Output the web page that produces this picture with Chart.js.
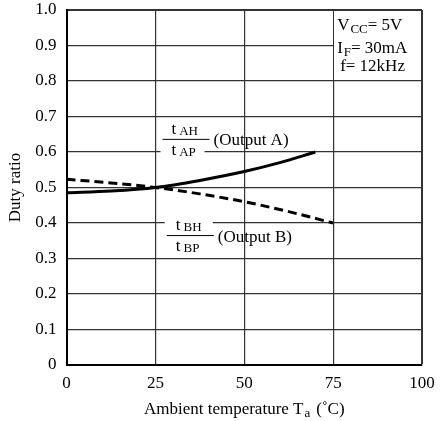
<!DOCTYPE html>
<html>
<head>
<meta charset="utf-8">
<script src="https://cdn.jsdelivr.net/npm/chart.js@4.4.1/dist/chart.umd.min.js"></script>
<style>
  html, body { margin: 0; padding: 0; background: #fff; }
</style>
</head>
<body>
<canvas id="dutyChart" width="447" height="421"></canvas>
<script>
// values
var tempA = [0, 12.5, 25, 37.5, 50, 60, 70];
var dutyA = [0.485, 0.49, 0.50, 0.52, 0.545, 0.57, 0.60];
var tempB = [0, 12.5, 25, 37.5, 50, 62.5, 75];
var dutyB = [0.523, 0.513, 0.50, 0.482, 0.46, 0.432, 0.40];

var xTicks = [0, 25, 50, 75, 100];
var yTicks = [0, 0.1, 0.2, 0.3, 0.4, 0.5, 0.6, 0.7, 0.8, 0.9, 1.0];

var SERIF = "'Liberation Serif', 'Times New Roman', serif";
Chart.defaults.font.family = SERIF;
Chart.defaults.color = "#000";

function pts(xs, ys) {
  return xs.map(function (v, i) { return { x: v, y: ys[i] }; });
}

// text with a lowered small part, e.g. V + CC
function subText(ctx, x, y, parts) {
  var cx = x;
  parts.forEach(function (p) {
    ctx.font = (p.sub ? "13px " : "17px ") + SERIF;
    ctx.fillText(p.t, cx, y + (p.sub ? (p.dy === undefined ? 3 : p.dy) : 0));
    cx += ctx.measureText(p.t).width + (p.gap || 0);
  });
  return cx;
}
function partsWidth(ctx, parts) {
  var w = 0;
  parts.forEach(function (p) {
    ctx.font = (p.sub ? "13px " : "17px ") + SERIF;
    w += ctx.measureText(p.t).width + (p.gap || 0);
  });
  return w;
}

function fraction(ctx, px, py, top, bot, name, bgTop, bgBot) {
  var w = 47;
  ctx.fillStyle = "#fff";
  if (bgTop) ctx.fillRect(px - 2, py - 17, w + 1, 14);
  if (bgBot) ctx.fillRect(px - 2, py + 4, w - 3, 14);
  ctx.strokeStyle = "#000";
  ctx.lineWidth = 1;
  ctx.beginPath();
  ctx.moveTo(px, py + 0.5);
  ctx.lineTo(px + w, py + 0.5);
  ctx.stroke();
  ctx.fillStyle = "#000";
  ctx.textBaseline = "alphabetic";
  ctx.textAlign = "left";
  subText(ctx, px + 9, py - 5, [{ t: "t", gap: 3 }, { t: top, sub: true, dy: 1 }]);
  subText(ctx, px + 9, py + 16, [{ t: "t", gap: 3 }, { t: bot, sub: true, dy: 1 }]);
  ctx.font = "17px " + SERIF;
  ctx.textBaseline = "middle";
  ctx.fillText("(Output " + name + ")", px + w + 4, py + 2);
}

var notes = {
  id: "notes",
  beforeDatasetsDraw: function (chart) {
    var ctx = chart.ctx, sx = chart.scales.x, sy = chart.scales.y;
    ctx.save();
    // condition box in upper right corner
    var bx0 = sx.getPixelForValue(75), bx1 = sx.getPixelForValue(100);
    var by0 = sy.getPixelForValue(1.0), by1 = sy.getPixelForValue(0.8);
    ctx.fillStyle = "#fff";
    ctx.fillRect(bx0 + 1, by0 + 1, bx1 - bx0 - 2, by1 - by0 - 2);
    ctx.fillStyle = "#000";
    ctx.textBaseline = "alphabetic";
    ctx.textAlign = "left";
    subText(ctx, bx0 + 4, by0 + 20, [{ t: "V", gap: 1 }, { t: "CC", sub: true }, { t: "= 5V" }]);
    subText(ctx, bx0 + 4, by0 + 43, [{ t: "I", gap: 1 }, { t: "F", sub: true }, { t: "= 30mA" }]);
    subText(ctx, bx0 + 7, by0 + 61, [{ t: "f= 12kHz" }]);

    // curve labels
    fraction(ctx, sx.getPixelForValue(27), sy.getPixelForValue(0.637), "AH", "AP", "A", false, true);
    fraction(ctx, sx.getPixelForValue(28.2), sy.getPixelForValue(0.366), "BH", "BP", "B", true, false);

    // x axis title with subscript
    var parts = [{ t: "Ambient temperature T", gap: 1 }, { t: "a", sub: true, dy: 4, gap: 6 }, { t: "(\u02DAC)" }];
    var tw = partsWidth(ctx, parts);
    var cx = (chart.chartArea.left + chart.chartArea.right) / 2;
    ctx.textBaseline = "middle";
    subText(ctx, cx - tw / 2, 410, parts);
    ctx.restore();
  }
};

var ctx = document.getElementById("dutyChart").getContext("2d");
var dutyChart = new Chart(ctx, {
  type: "line",
  data: {
    datasets: [{
      label: "Output A",
      data: pts(tempA, dutyA),
      borderColor: "#000",
      borderWidth: 3,
      pointRadius: 0,
      fill: false,
      cubicInterpolationMode: "monotone"
    }, {
      label: "Output B",
      data: pts(tempB, dutyB),
      borderColor: "#000",
      borderWidth: 3,
      borderDash: [9, 5],
      pointRadius: 0,
      fill: false,
      cubicInterpolationMode: "monotone"
    }]
  },
  options: {
    responsive: false,
    animation: false,
    devicePixelRatio: 1,
    layout: { padding: { top: 10, right: 25, left: 0, bottom: 0 } },
    plugins: { legend: { display: false }, tooltip: { enabled: false } },
    scales: {
      x: {
        type: "linear",
        min: 0,
        max: 100,
        afterBuildTicks: function (s) { s.ticks = xTicks.map(function (v) { return { value: v }; }); },
        afterFit: function (s) { s.height = 56; s.paddingLeft = 0; s.paddingRight = 0; },
        ticks: { font: { size: 17 }, padding: 8, maxRotation: 0 },
        grid: {
          drawTicks: false,
          color: "#333",
          lineWidth: function (c) { return c.tick && c.tick.value === 100 ? 2 : 1.2; }
        },
        border: { display: true, color: "#000", width: 2 }
      },
      y: {
        min: 0,
        max: 1,
        afterBuildTicks: function (s) { s.ticks = yTicks.map(function (v) { return { value: v }; }); },
        afterFit: function (s) { s.width = 66.5; s.paddingTop = 0; s.paddingBottom = 0; },
        ticks: {
          font: { size: 17 },
          padding: 10,
          callback: function (v) { return v === 0 ? "0" : v.toFixed(1); }
        },
        grid: {
          drawTicks: false,
          color: "#333",
          lineWidth: function (c) { return c.tick && c.tick.value === 1 ? 2 : 1.2; }
        },
        border: { display: true, color: "#000", width: 2 },
        title: { display: true, text: "Duty ratio", font: { size: 17 }, padding: { top: 5, bottom: 0 } }
      }
    }
  },
  plugins: [notes]
});
</script>
</body>
</html>
